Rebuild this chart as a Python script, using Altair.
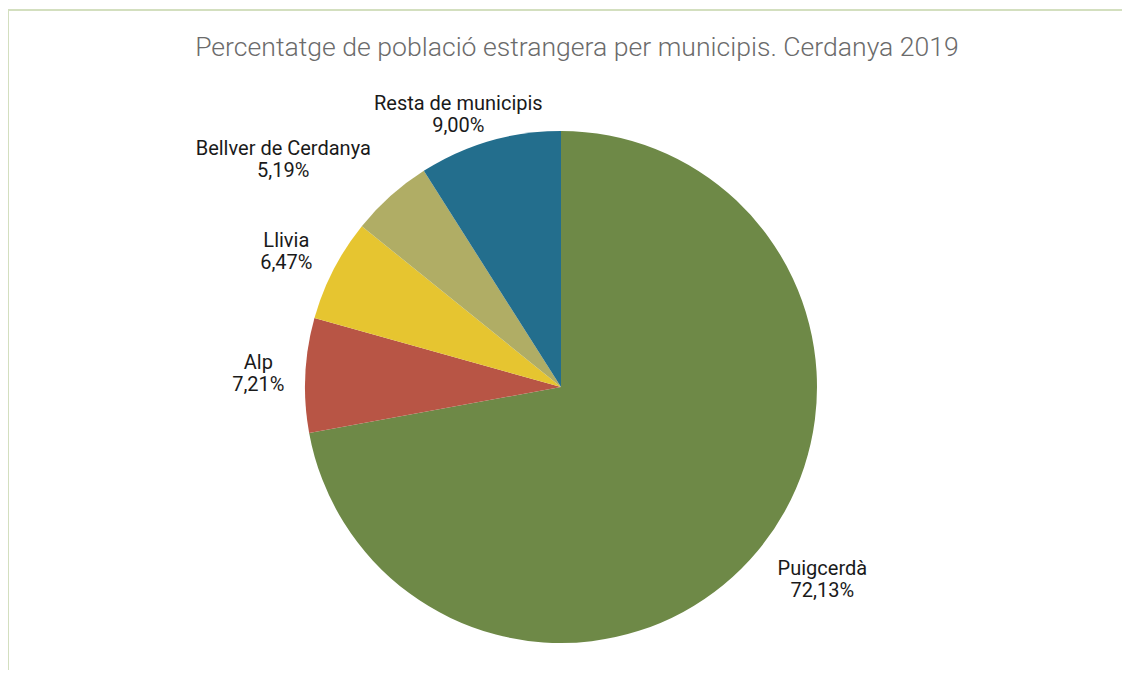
import math
import altair as alt
import pandas as pd

# ---- data ----
categories = ["Puigcerdà", "Alp", "Llivia", "Bellver de Cerdanya", "Resta de municipis"]
values = [72.13, 7.21, 6.47, 5.19, 9.00]
colors = ["#6e8947", "#b85545", "#e6c530", "#b0ad65", "#236e8d"]
title_text = "Percentatge de població estrangera per municipis. Cerdanya 2019"

df = pd.DataFrame({
    "municipi": categories,
    "valor": values,
    "ordre": list(range(len(categories))),
})
df["etiqueta"] = [c + "\n" + f"{v:.2f}".replace(".", ",") + "%" for c, v in zip(categories, values)]

# ---- layout / style ----
W, H = 1113, 660
CX, CY = 552, 377
R = 256
LABEL_R = 300
BORDER = "#d3dfbf"
label_offsets = {
    "Puigcerdà": (31, -10),
    "Alp": (-3, -10),
    "Llivia": (-8, -9),
    "Bellver de Cerdanya": (-78, -14),
    "Resta de municipis": (-19, 5),
}

base = alt.Chart(df)

pie = base.mark_arc(radius=R).encode(
    theta=alt.Theta("valor:Q", stack=True),
    color=alt.Color("municipi:N", scale=alt.Scale(domain=categories, range=colors), legend=None),
    order=alt.Order("ordre:Q"),
    x=alt.value(CX),
    y=alt.value(CY),
)

label_layers = []
for cat, (dx, dy) in label_offsets.items():
    lay = (
        base.transform_window(cum="sum(valor)", sort=[alt.SortField("ordre")], frame=[None, 0])
        .transform_calculate(mid="datum.cum - datum.valor / 2")
        .transform_filter(alt.datum.municipi == cat)
        .mark_text(
            radius=LABEL_R, dx=dx, dy=dy, fontSize=20, font="Roboto",
            lineBreak="\n", align="center", baseline="middle", color="#1a1a1a",
            lineHeight=22,
        )
        .encode(
            theta=alt.Theta("mid:Q", stack=False,
                            scale=alt.Scale(domain=[0, sum(values)], range=[0, 2 * math.pi])),
            text="etiqueta:N",
            x=alt.value(CX),
            y=alt.value(CY),
        )
    )
    label_layers.append(lay)

one = pd.DataFrame({"t": [title_text]})
title = alt.Chart(one).mark_text(
    font="Roboto", fontSize=26.6, fontWeight=300, color="#6b6b6b",
    align="center", baseline="alphabetic",
).encode(text="t:N", x=alt.value(568), y=alt.value(46))

top_border = alt.Chart(one).mark_rule(color=BORDER, strokeWidth=2).encode(
    x=alt.value(-1), x2=alt.value(W + 5), y=alt.value(0)
)
left_border = alt.Chart(one).mark_rule(color=BORDER, strokeWidth=2).encode(
    x=alt.value(-1), y=alt.value(0), y2=alt.value(H + 10)
)

chart = (
    alt.layer(top_border, left_border, pie, *label_layers, title)
    .resolve_scale(theta="independent")
    .properties(
        width=W, height=H,
        autosize=alt.AutoSizeParams(type="none"),
        padding={"left": 1, "top": 2, "right": 0, "bottom": 0},
        background="white",
    )
    .configure_view(stroke=None)
)

chart.save("out.html", embed_options={"renderer": "svg", "actions": False})
